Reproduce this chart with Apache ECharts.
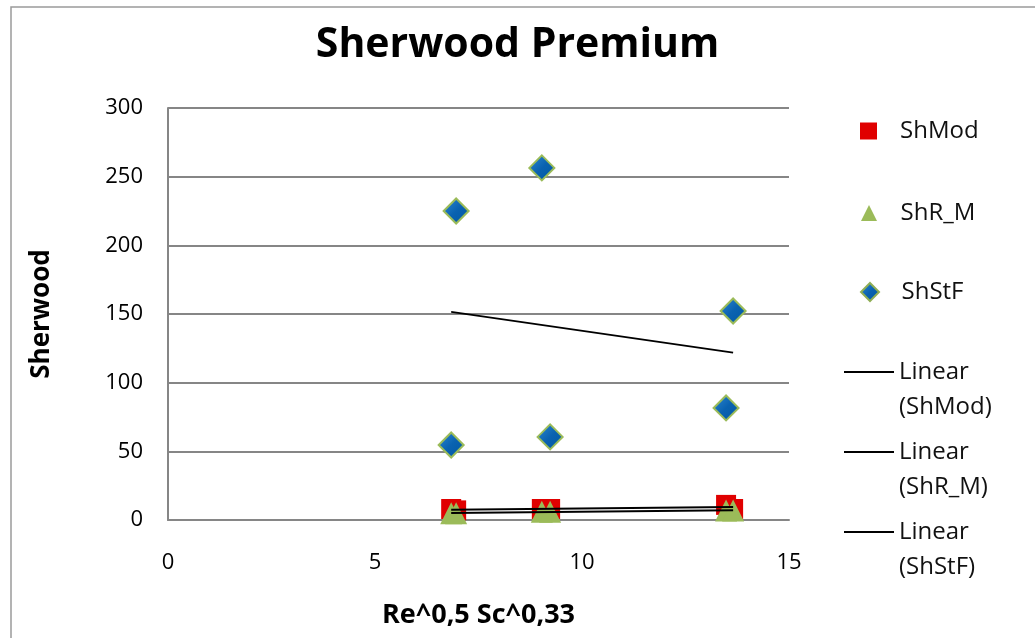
<!DOCTYPE html>
<html>
<head>
<meta charset="utf-8">
<title>Sherwood Premium</title>
<script src="https://cdn.jsdelivr.net/npm/echarts@6/dist/echarts.min.js"></script>
<style>
  html, body { margin: 0; padding: 0; background: #ffffff; }
  #chart { width: 1035px; height: 638px; }
</style>
</head>
<body>
<div id="chart"></div>
<script>
// Re^0,5 Sc^0,33 for each measurement
const reSc = [6.84, 6.96, 9.03, 9.23, 13.48, 13.65];
// Sherwood numbers per correlation
const shMod = [8, 7, 8, 8, 11, 8];
const shRM = [5, 5, 6, 6, 7, 7];
const shStF = [54.6, 225, 256.4, 60.5, 81.6, 152.2];

// axis ranges: [min, max, interval]
const xRange = [0, 15, 5];
const yRange = [0, 300, 50];

const FONT = 'Open Sans';

function pairs(xs, ys) {
  return xs.map((x, i) => [x, ys[i]]);
}

// least-squares straight line over the span of the data
function linearFit(xs, ys) {
  const n = xs.length;
  const mx = xs.reduce((a, b) => a + b, 0) / n;
  const my = ys.reduce((a, b) => a + b, 0) / n;
  let sxy = 0, sxx = 0;
  for (let i = 0; i < n; i++) {
    sxy += (xs[i] - mx) * (ys[i] - my);
    sxx += (xs[i] - mx) * (xs[i] - mx);
  }
  const b = sxy / sxx;
  const a = my - b * mx;
  const x0 = Math.min(...xs), x1 = Math.max(...xs);
  return [[x0, a + b * x0], [x1, a + b * x1]];
}

const diamondFill = {
  type: 'linear', x: 0, y: 0, x2: 1, y2: 1,
  colorStops: [
    { offset: 0, color: '#2f8ad4' },
    { offset: 0.5, color: '#0a62b0' },
    { offset: 1, color: '#0058a3' }
  ]
};

const baseText = { fontFamily: FONT, fontSize: 24, color: '#111111' };

// marker entries: small symbol, then a spacer before the name
const markerLegend = (name, size, centerY, extra) => Object.assign({
  orient: 'vertical',
  left: Math.round(868.5 - size / 2),
  top: centerY - 12,
  padding: 0,
  itemWidth: size,
  itemHeight: size,
  data: [name],
  formatter: '{s| }' + name,
  textStyle: Object.assign({}, baseText, {
    rich: { s: { width: 18 - (size - 17) / 2 } }
  })
}, extra || {});

// trend entries: blank first line keeps "Linear" level with the stroke
const trendLegend = (name, label, centerY) => ({
  orient: 'vertical',
  left: 843,
  top: centerY - 52.5,
  padding: 0,
  itemWidth: 50,
  itemHeight: 14,
  data: [name],
  textStyle: Object.assign({}, baseText, { lineHeight: 35 }),
  itemStyle: { color: 'rgba(0,0,0,0)', borderWidth: 0 },
  lineStyle: { color: '#000000', width: 2 },
  formatter: '\nLinear\n' + label
});

const chart = echarts.init(document.getElementById('chart'), null, { renderer: 'canvas' });

chart.setOption({
  animation: false,
  backgroundColor: '#ffffff',
  title: {
    text: 'Sherwood Premium',
    left: 'center',
    top: 20,
    textStyle: { fontFamily: FONT, fontWeight: 'bold', fontSize: 41, color: '#000000' }
  },
  graphic: [{
    type: 'rect',
    silent: true,
    z: -10,
    shape: { x: 11, y: 7, width: 1100, height: 700 },
    style: { fill: 'none', stroke: '#9a9a9a', lineWidth: 1.5 }
  }],
  grid: { left: 168, right: 246, top: 108, bottom: 118 },
  xAxis: {
    type: 'value',
    min: xRange[0], max: xRange[1], interval: xRange[2],
    name: 'Re^0,5 Sc^0,33',
    nameLocation: 'middle',
    nameGap: 82,
    nameTextStyle: { fontFamily: FONT, fontWeight: 'bold', fontSize: 27, color: '#000000' },
    axisLine: { show: true, lineStyle: { color: '#868686', width: 2 } },
    axisTick: { show: false },
    axisLabel: { margin: 32, fontFamily: FONT, fontSize: 22, color: '#000000' },
    splitLine: { show: false }
  },
  yAxis: {
    type: 'value',
    min: yRange[0], max: yRange[1], interval: yRange[2],
    name: 'Sherwood',
    nameLocation: 'middle',
    nameGap: 113,
    nameTextStyle: { fontFamily: FONT, fontWeight: 'bold', fontSize: 26, color: '#000000' },
    axisLine: { show: true, lineStyle: { color: '#868686', width: 2 } },
    axisTick: { show: false },
    axisLabel: { margin: 25, fontFamily: FONT, fontSize: 22, color: '#000000' },
    splitLine: { show: true, lineStyle: { color: '#868686', width: 2 } }
  },
  legend: [
    markerLegend('ShMod', 17, 131),
    markerLegend('ShR_M', 16, 213),
    markerLegend('ShStF', 18, 292, { itemStyle: { borderColor: '#8fae55', borderWidth: 2 } }),
    trendLegend('Linear (ShMod)', '(ShMod)', 372),
    trendLegend('Linear (ShR_M)', '(ShR_M)', 452),
    trendLegend('Linear (ShStF)', '(ShStF)', 532)
  ],
  series: [
    {
      name: 'ShMod', type: 'scatter', symbol: 'rect', symbolSize: 20,
      itemStyle: { color: '#e00000', opacity: 1 },
      data: pairs(reSc, shMod), z: 2
    },
    {
      name: 'ShR_M', type: 'scatter', symbol: 'triangle', symbolSize: [22, 22],
      itemStyle: { color: '#9bbb59', opacity: 1 },
      data: pairs(reSc, shRM), z: 3
    },
    {
      name: 'ShStF', type: 'scatter', symbol: 'diamond', symbolSize: 25,
      itemStyle: { color: diamondFill, borderColor: '#9bbb59', borderWidth: 2, opacity: 1 },
      data: pairs(reSc, shStF), z: 4
    },
    {
      name: 'Linear (ShMod)', type: 'line', symbol: 'none', z: 5,
      lineStyle: { color: '#000000', width: 2 }, itemStyle: { color: '#000000' },
      data: linearFit(reSc, shMod)
    },
    {
      name: 'Linear (ShR_M)', type: 'line', symbol: 'none', z: 5,
      lineStyle: { color: '#000000', width: 2 }, itemStyle: { color: '#000000' },
      data: linearFit(reSc, shRM)
    },
    {
      name: 'Linear (ShStF)', type: 'line', symbol: 'none', z: 5,
      lineStyle: { color: '#000000', width: 1.8 }, itemStyle: { color: '#000000' },
      data: linearFit(reSc, shStF)
    }
  ]
});
</script>
</body>
</html>
